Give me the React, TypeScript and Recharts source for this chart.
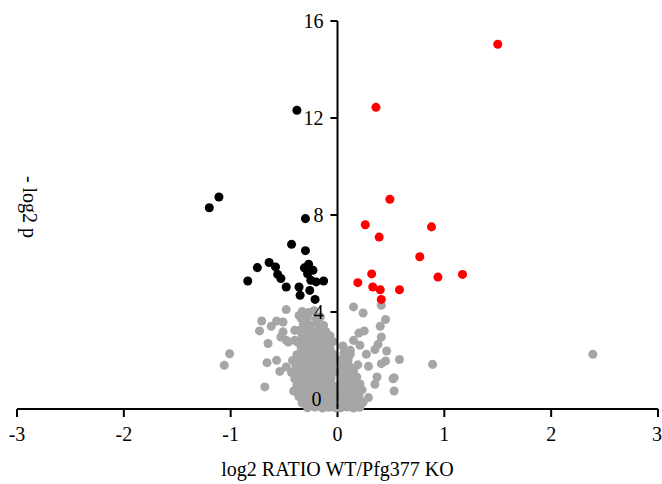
import {
  ScatterChart,
  Scatter,
  XAxis,
  YAxis,
  ZAxis,
  ReferenceLine,
} from "recharts";

const xTicks = [-3, -2, -1, 0, 1, 2, 3];
const yTicks = [4, 8, 12, 16];

const redPoints = [
  [1.5, 15.04], [0.36, 12.44], [0.49, 8.65], [0.26, 7.6], [0.88, 7.51],
  [0.39, 7.09], [0.77, 6.28], [0.32, 5.57], [1.17, 5.55], [0.94, 5.44],
  [0.19, 5.21], [0.33, 5.03], [0.4, 4.92], [0.58, 4.92], [0.41, 4.52],
];

const blackPoints = [
  [-0.38, 12.32], [-1.11, 8.74], [-1.2, 8.3], [-0.3, 7.85], [-0.43, 6.79],
  [-0.3, 6.53], [-0.75, 5.83], [-0.64, 6.04], [-0.58, 5.86], [-0.27, 5.97],
  [-0.31, 5.82], [-0.23, 5.72], [-0.56, 5.55], [-0.28, 5.58], [-0.53, 5.38],
  [-0.84, 5.28], [-0.25, 5.31], [-0.13, 5.28], [-0.2, 5.24], [-0.48, 5.03],
  [-0.36, 5.03], [-0.26, 4.89], [-0.35, 4.69], [-0.21, 4.52],
];

const grayPoints = [
  // scattered
  [-1.06, 1.8], [-1.01, 2.28], [2.39, 2.26], [0.89, 1.84],
  [-0.71, 3.63], [-0.57, 3.63], [-0.62, 3.41], [-0.73, 3.22], [-0.51, 3.18],
  [-0.53, 2.97], [-0.46, 2.76], [-0.65, 2.7], [-0.48, 4.1], [-0.51, 3.59],
  [-0.66, 1.91], [-0.57, 2.01], [-0.54, 1.55], [-0.48, 1.73], [-0.68, 0.91],
  [-0.4, 3.25], [-0.4, 2.83], [-0.48, 2.83], [-0.37, 0.64], [-0.36, 3.86],
  [0.15, 4.21], [0.24, 3.96], [0.41, 4.28], [0.45, 3.69], [0.4, 3.41],
  [0.2, 3.13], [0.25, 3.22], [0.41, 2.97], [0.15, 2.83], [0.38, 2.67],
  [0.21, 2.63], [0.12, 2.42], [0.35, 2.45], [0.46, 2.39], [0.27, 2.26],
  [0.58, 2.04], [0.45, 1.98], [0.29, 1.76], [0.41, 1.87], [0.37, 1.32],
  [0.53, 1.29], [0.35, 1.02], [0.53, 0.74], [0.29, 0.47], [0.52, 1.25],
  // left dense cluster
  [-0.33, 4.02], [-0.27, 3.98], [-0.22, 4.05],
  [-0.34, 3.74], [-0.28, 3.77], [-0.2, 3.72], [-0.16, 3.8],
  [-0.32, 3.5], [-0.26, 3.47], [-0.19, 3.52], [-0.13, 3.45],
  [-0.36, 3.24], [-0.3, 3.27], [-0.24, 3.22], [-0.17, 3.26], [-0.11, 3.2],
  [-0.33, 3.0], [-0.27, 2.97], [-0.2, 3.03], [-0.13, 2.98], [-0.07, 3.02],
  [-0.37, 2.74], [-0.3, 2.77], [-0.23, 2.72], [-0.16, 2.76], [-0.09, 2.73], [-0.04, 2.78],
  [-0.34, 2.5], [-0.28, 2.47], [-0.21, 2.52], [-0.14, 2.48], [-0.07, 2.51],
  [-0.38, 2.24], [-0.31, 2.27], [-0.25, 2.22], [-0.18, 2.26], [-0.11, 2.23], [-0.04, 2.27],
  [-0.42, 2.0], [-0.35, 1.97], [-0.29, 2.02], [-0.22, 1.98], [-0.15, 2.01], [-0.08, 1.96], [-0.02, 2.03],
  [-0.39, 1.74], [-0.32, 1.77], [-0.26, 1.72], [-0.19, 1.76], [-0.12, 1.73], [-0.05, 1.78],
  [-0.43, 1.5], [-0.36, 1.47], [-0.3, 1.52], [-0.23, 1.48], [-0.16, 1.51], [-0.09, 1.47], [-0.03, 1.52],
  [-0.4, 1.24], [-0.33, 1.27], [-0.27, 1.22], [-0.2, 1.26], [-0.13, 1.23], [-0.06, 1.27],
  [-0.38, 1.0], [-0.31, 0.97], [-0.24, 1.02], [-0.17, 0.98], [-0.1, 1.01], [-0.04, 0.97],
  [-0.41, 0.74], [-0.34, 0.77], [-0.28, 0.72], [-0.21, 0.76], [-0.14, 0.73], [-0.07, 0.77], [-0.02, 0.72],
  [-0.36, 0.5], [-0.3, 0.47], [-0.23, 0.52], [-0.16, 0.48], [-0.09, 0.51], [-0.03, 0.47],
  [-0.33, 0.24], [-0.26, 0.27], [-0.19, 0.22], [-0.12, 0.26], [-0.05, 0.23],
  [-0.28, 0.05], [-0.21, 0.08], [-0.14, 0.04], [-0.08, 0.07], [-0.02, 0.05],
  // right dense cluster
  [0.03, 0.05], [0.09, 0.08], [0.15, 0.04], [0.21, 0.07],
  [0.05, 0.3], [0.11, 0.27], [0.17, 0.32], [0.24, 0.28],
  [0.03, 0.55], [0.08, 0.52], [0.14, 0.57], [0.2, 0.54],
  [0.05, 0.8], [0.11, 0.77], [0.17, 0.82], [0.23, 0.79],
  [0.03, 1.05], [0.09, 1.02], [0.15, 1.07], [0.21, 1.03],
  [0.05, 1.3], [0.11, 1.27], [0.18, 1.32],
  [0.03, 1.55], [0.09, 1.52], [0.15, 1.57],
  [0.05, 1.8], [0.11, 1.77], [0.19, 1.82],
  [0.04, 2.05], [0.1, 2.02], [0.06, 2.3], [0.12, 2.27], [0.05, 2.6],
];

const toData = (pts: number[][]) => pts.map(([x, y]) => ({ x, y }));

const font = "'Liberation Serif', 'Times New Roman', serif";

export default function App() {
  return (
    <div style={{ position: "relative", width: 662, height: 484, fontFamily: font }}>
      <style>{"body{margin:0}"}</style>
      <ScatterChart
        width={662}
        height={484}
        margin={{ top: 21, right: 4, left: 17, bottom: 0 }}
      >
        <XAxis
          type="number"
          dataKey="x"
          domain={[-3, 3]}
          ticks={xTicks}
          height={75}
          tickSize={8}
          tickMargin={10}
          stroke="#000"
          strokeWidth={2}
          tick={{ fill: "#000", fontSize: 20, fontFamily: font }}
          label={{
            value: "log2 RATIO WT/Pfg377 KO",
            position: "insideBottom",
            offset: 8,
            fill: "#000",
            fontSize: 20,
            fontFamily: font,
          }}
        />
        <YAxis type="number" dataKey="y" domain={[0, 16]} hide />
        <ZAxis range={[90, 90]} />
        <Scatter data={toData(grayPoints)} fill="#a6a6a6" isAnimationActive={false} />
        <Scatter data={toData(blackPoints)} fill="#000000" isAnimationActive={false} />
        <Scatter data={toData(redPoints)} fill="#ff0000" isAnimationActive={false} />
        <ReferenceLine x={0} stroke="#000" strokeWidth={2} zIndex={1000} />
        {yTicks.map((t) => (
          <ReferenceLine
            key={t}
            segment={[{ x: -0.066, y: t }, { x: 0, y: t }]}
            stroke="#000"
            strokeWidth={2}
            zIndex={1000}
            label={{ value: String(t), position: "left", offset: 7, fill: "#000", fontSize: 20, fontFamily: font }}
          />
        ))}
        <ReferenceLine
          segment={[{ x: -0.066, y: 0 }, { x: 0, y: 0 }]}
          stroke="none"
          zIndex={1000}
          label={{ value: "0", position: "left", offset: 9, dy: -10, fill: "#000", fontSize: 20, fontFamily: font }}
        />
      </ScatterChart>
      <div
        style={{
          position: "absolute",
          left: 29,
          top: 207,
          transform: "translate(-50%, -50%) rotate(90deg)",
          fontSize: 20,
          whiteSpace: "nowrap",
          color: "#000",
        }}
      >
        - log2 p
      </div>
    </div>
  );
}
